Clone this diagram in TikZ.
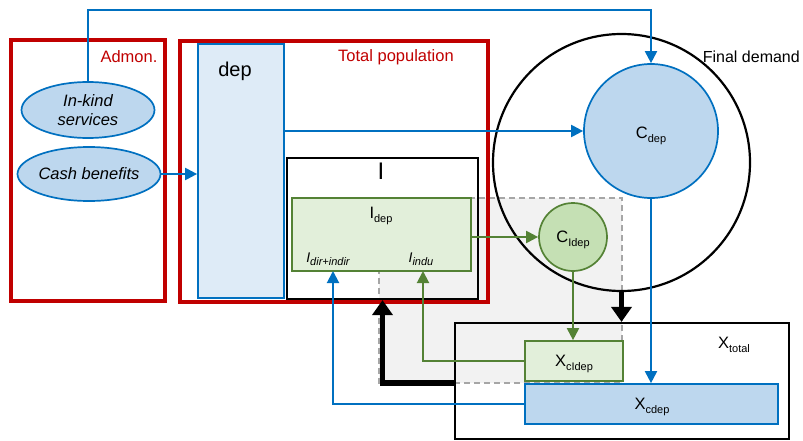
\documentclass[tikz,border=0pt]{standalone}
\usepackage{fontspec}
\setmainfont{Liberation Sans}
\usetikzlibrary{arrows.meta,calc,shapes.geometric}
\definecolor{admred}{HTML}{C00000}
\definecolor{lblue}{HTML}{0070C0}
\definecolor{bfill}{HTML}{BDD7EE}
\definecolor{dfill}{HTML}{DEEBF7}
\definecolor{lgreen}{HTML}{548235}
\definecolor{gfill}{HTML}{E2EFDA}
\definecolor{cgfill}{HTML}{C5E0B4}
\definecolor{grayfill}{HTML}{F2F2F2}
\definecolor{graydash}{HTML}{A6A6A6}
\newcommand\lsub[1]{\raisebox{-0.45ex}{\fontsize{11}{11}\selectfont #1}}
\newcommand\fs[1]{\fontsize{#1}{#1}\selectfont}
\tikzset{
  box/.style={draw, rectangle, inner sep=0pt},
  redbox/.style={box, draw=admred, line width=3.2pt},
  blackbox/.style={box, draw=black, line width=2.2pt},
  bluebox/.style={box, draw=lblue, line width=1.7pt, fill=bfill},
  greenbox/.style={box, draw=lgreen, line width=1.7pt, fill=gfill},
  ell/.style={draw=lblue, ellipse, line width=1.7pt, fill=bfill, inner sep=0pt},
  txt/.style={inner sep=0pt, font=\fs{16.5}},
  bluearrow/.style={draw=lblue, line width=2pt, -{Triangle[length=12pt,width=12pt]}},
  greenarrow/.style={draw=lgreen, line width=2pt, -{Triangle[length=12pt,width=12pt]}},
  thickarrow/.style={draw=black, line width=5.5pt, -{Triangle[length=15pt,width=20pt]}},
}
\begin{document}
\begin{tikzpicture}[x=1pt,y=-1pt]
\useasboundingbox (0,0) rectangle (803,441);
% gray dashed region
\draw[fill=grayfill, draw=graydash, dash pattern=on 6pt off 4pt, line width=1.5pt] (379,198) rectangle (622,383);
% outer boxes
\node[redbox, minimum width=154, minimum height=261] (admon) at (88,170.5) {};
\node[redbox, minimum width=308, minimum height=261] (totpop) at (334,171.5) {};
\node[box, draw=lblue, line width=1.7pt, fill=dfill, minimum width=86, minimum height=254] (dep) at (241,171) {};
\node[ell, minimum width=133, minimum height=56, align=center, font=\fs{16.5}\itshape] (ik) at (88,110) {In-kind\\[3pt]services};
\node[ell, minimum width=143, minimum height=54, font=\fs{16.5}\itshape] (cash) at (89,174) {Cash benefits};
% I box
\node[blackbox, minimum width=191, minimum height=141] (ibox) at (382.5,228.5) {};
\node[greenbox, minimum width=179, minimum height=73] (idep) at (381.5,234.5) {};
% final demand
\node[draw, circle, line width=2.2pt, minimum size=257, inner sep=0pt] (fd) at (621.5,162.5) {};
\node[draw=lblue, circle, line width=1.7pt, fill=bfill, minimum size=134, inner sep=0pt] (cdep) at (651,131) {};
\node[draw=lgreen, circle, line width=1.7pt, fill=cgfill, minimum size=68, inner sep=0pt] (cldep) at (573,237) {};
% X boxes
\node[blackbox, minimum width=334, minimum height=116] (xtotal) at (622,381) {};
\node[greenbox, minimum width=98, minimum height=40] (xcldep) at (574,361) {};
\node[bluebox, minimum width=253, minimum height=40] (xcdep) at (651.5,404) {};
% labels
\node[txt, text=admred] (ladmon) at (129,57) {Admon.};
\node[txt, text=admred] (ltot) at (396,57) {Total population};
\node[txt, font=\fs{20}] (ldep) at (235,71) {dep};
\node[txt, font=\fs{16}, anchor=east] (lfd) at (800,57) {Final demand};
\node[txt, font=\fs{24}] (li) at (381,171) {I};
\node[txt] (lidep) at (381,216) {I\lsub{dep}};
\node[txt, font=\fs{14}\itshape] (lidir) at (328,259) {I\lsub{\itshape dir+indir}};
\node[txt, font=\fs{14}\itshape] (lindu) at (421,259) {I\lsub{\itshape indu}};
\node[txt] (lcdep) at (651,136) {C\lsub{dep}};
\node[txt] (lcldep) at (573,240) {C\lsub{Idep}};
\node[txt] (lxtot) at (734,345) {X\lsub{total}};
\node[txt] (lxcl) at (574,364) {X\lsub{cIdep}};
\node[txt] (lxc) at (652,407) {X\lsub{cdep}};
% coordinates
\coordinate (ctop) at (651,10);
\coordinate (tk) at (455,383);
\coordinate (iin) at (423,271);
\coordinate (idi) at (333,271);
% connectors
\draw[bluearrow] (ik.north) |- (ctop) -- (cdep.north);
\draw[bluearrow] (cash.east) -- (cash.east -| dep.west);
\draw[bluearrow] (dep.east |- cdep.west) -- (cdep.west);
\draw[greenarrow] (idep.east |- cldep.west) -- (cldep.west);
\draw[greenarrow] (cldep.south) -- (cldep.south |- xcldep.north);
\draw[bluearrow] (cdep.south) -- (cdep.south |- xcdep.north);
\draw[thickarrow] (fd.south) -- (fd.south |- xtotal.north);
\draw[thickarrow] (tk) -| (ibox.south);
\draw[greenarrow] (xcldep.west) -| (iin);
\draw[bluearrow] (xcdep.west) -| (idi);
\end{tikzpicture}
\end{document}
